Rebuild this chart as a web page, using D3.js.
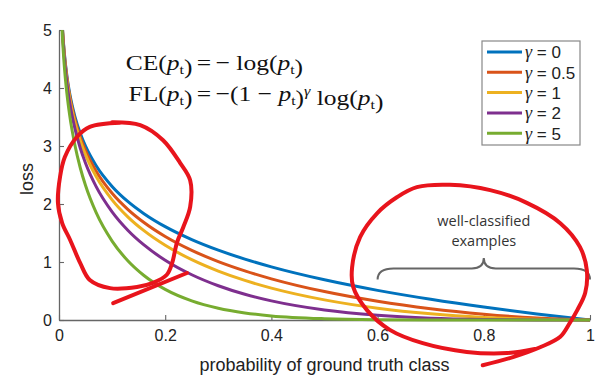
<!DOCTYPE html>
<html>
<head>
<meta charset="utf-8">
<script src="https://cdnjs.cloudflare.com/ajax/libs/d3/7.8.5/d3.min.js"></script>
<style>
  body { margin: 0; background: #fff; }
  svg { display: block; }
</style>
</head>
<body>
<svg width="603" height="385"></svg>
<script>
// probability of ground truth class (x) and loss per gamma (y)
var probs   = [0.005, 0.007, 0.01, 0.015, 0.02, 0.03, 0.04, 0.05, 0.07, 0.1, 0.13, 0.16, 0.2, 0.25, 0.3, 0.35, 0.4, 0.5, 0.6, 0.7, 0.8, 0.9, 1.0];
var lossG0  = [5.298, 4.962, 4.605, 4.200, 3.912, 3.507, 3.219, 2.996, 2.659, 2.303, 2.040, 1.833, 1.609, 1.386, 1.204, 1.050, 0.916, 0.693, 0.511, 0.357, 0.223, 0.105, 0];
var lossG05 = [5.285, 4.945, 4.582, 4.168, 3.873, 3.454, 3.154, 2.920, 2.564, 2.184, 1.903, 1.680, 1.439, 1.200, 1.007, 0.847, 0.710, 0.490, 0.323, 0.195, 0.100, 0.033, 0];
var lossG1  = [5.272, 4.927, 4.559, 4.137, 3.834, 3.402, 3.090, 2.846, 2.473, 2.072, 1.775, 1.540, 1.288, 1.040, 0.843, 0.682, 0.550, 0.347, 0.204, 0.107, 0.045, 0.011, 0];
var lossG2  = [5.245, 4.893, 4.513, 4.075, 3.757, 3.300, 2.966, 2.704, 2.300, 1.865, 1.544, 1.294, 1.030, 0.780, 0.590, 0.443, 0.330, 0.173, 0.082, 0.032, 0.009, 0.001, 0];
var lossG5  = [5.167, 4.791, 4.379, 3.894, 3.536, 3.012, 2.625, 2.318, 1.850, 1.360, 1.017, 0.767, 0.527, 0.329, 0.202, 0.122, 0.071, 0.022, 0.005, 0.001, 0, 0, 0];

var gammaLabels = ["0", "0.5", "1", "2", "5"];
var seriesColors = ["#0072bd", "#d95319", "#edb120", "#7e2f8e", "#77ac30"];
var xTicks = [0, 0.2, 0.4, 0.6, 0.8, 1];
var yTicks = [0, 1, 2, 3, 4, 5];

// hand drawn red marks, in data units (x = probability, y = loss)
var redLeftX = [0.100, 0.153, 0.196, 0.228, 0.247, 0.247, 0.234, 0.222, 0.213, 0.203, 0.177, 0.147, 0.096, 0.058, 0.040, 0.021, 0.006, -0.002, 0.002, 0.011, 0.034, 0.058, 0.115];
var redLeftY = [3.41, 3.36, 3.10, 2.71, 2.41, 1.95, 1.60, 1.33, 0.98, 0.78, 0.64, 0.57, 0.55, 0.69, 0.98, 1.38, 1.67, 2.02, 2.47, 2.81, 3.16, 3.33, 3.40];
var redTickX = [0.102, 0.241];
var redTickY = [0.29, 0.81];
var redRightX = [0.798, 0.855, 0.906, 0.944, 0.962, 0.976, 0.991, 0.994, 0.981, 0.944, 0.881, 0.812, 0.736, 0.674, 0.637, 0.599, 0.567, 0.552, 0.554, 0.580, 0.623, 0.685, 0.768, 0.844, 0.896];
var redRightY = [-0.78, -0.64, -0.47, -0.29, -0.05, 0.17, 0.47, 0.86, 1.26, 1.67, 2.02, 2.24, 2.33, 2.29, 2.12, 1.84, 1.43, 0.91, 0.57, 0.17, -0.17, -0.40, -0.55, -0.57, -0.50];

var svg = d3.select("svg");

var x = d3.scaleLinear().domain([0, 1]).range([59, 590]);
var y = d3.scaleLinear().domain([0, 5]).range([320, 30]);

var series = [lossG0, lossG05, lossG1, lossG2, lossG5].map(function(vals, i) {
  return { label: gammaLabels[i], color: seriesColors[i],
           pts: probs.map(function(p, j) { return [p, vals[j]]; }) };
});

// clip the curves to the axes box
svg.append("defs").append("clipPath").attr("id", "plotclip")
  .append("rect")
    .attr("x", x(0)).attr("y", y(5))
    .attr("width", x(1) - x(0) + 3).attr("height", y(0) - y(5) + 2);

// axes
var xAxis = svg.append("g")
    .attr("transform", "translate(0," + y(0) + ")")
    .call(d3.axisBottom(x).tickValues(xTicks).tickSizeInner(-5).tickSizeOuter(0)
      .tickFormat(function(d) { return d === 0 || d === 1 ? d : d3.format(".1f")(d); }));
var yAxis = svg.append("g")
    .attr("transform", "translate(" + x(0) + ",0)")
    .call(d3.axisLeft(y).tickValues(yTicks).tickSizeInner(-5).tickSizeOuter(0)
      .tickFormat(d3.format("d")));

[xAxis, yAxis].forEach(function(a) {
  a.select(".domain").attr("stroke", "#666").attr("stroke-width", 1.3);
  a.selectAll(".tick line").attr("stroke", "#666").attr("stroke-width", 1.1);
  a.selectAll(".tick text").attr("fill", "#222")
    .style("font-family", "'Liberation Sans', Arial, sans-serif").style("font-size", "16px");
});
xAxis.selectAll(".tick text").attr("dy", "1.1em");
yAxis.selectAll(".tick text").attr("x", -7).attr("dy", "0.36em");

// axis titles
svg.append("text")
    .attr("x", (x(0) + x(1)) / 2).attr("y", 371)
    .attr("text-anchor", "middle").attr("fill", "#222")
    .style("font-family", "'Liberation Sans', Arial, sans-serif").style("font-size", "18px")
    .text("probability of ground truth class");
svg.append("text")
    .attr("transform", "translate(33," + (y(2.5) + 4) + ") rotate(-90)")
    .attr("text-anchor", "middle").attr("fill", "#222")
    .style("font-family", "'Liberation Sans', Arial, sans-serif").style("font-size", "18px")
    .text("loss");

// curves
var line = d3.line()
    .x(function(d) { return x(d[0]); })
    .y(function(d) { return y(d[1]); })
    .curve(d3.curveMonotoneX);

svg.append("g").attr("clip-path", "url(#plotclip)")
  .selectAll("path").data(series).enter().append("path")
    .attr("fill", "none")
    .attr("stroke", function(d) { return d.color; })
    .attr("stroke-width", 3)
    .attr("d", function(d) { return line(d.pts); });

// formulas: left side ends before "=", right side starts after it.
// stretched a bit sideways, the TeX font is wider than Times
var serif = "'Liberation Serif', 'DejaVu Serif', serif";
function ftext(g, xx, anchor) {
  return g.append("text").attr("x", xx).attr("text-anchor", anchor)
      .attr("fill", "#111").style("font-family", serif).style("font-size", "22px");
}
function pt(sel) {
  sel.append("tspan").style("font-style", "italic").text("p");
  sel.append("tspan").attr("dy", 4).style("font-size", "13.5px").text("t");
  sel.append("tspan").attr("dy", -4).text("");
}
function formula(yy, name, right) {
  var g = svg.append("g").attr("transform", "translate(204," + yy + ") scale(1.16,1)");
  var l = ftext(g, -10, "end");
  l.append("tspan").text(name + "(");
  pt(l);
  l.append("tspan").text(")");
  ftext(g, 0, "middle").text("=");
  right(ftext(g, 10, "start"));
}
formula(70, "CE", function(s) {
  s.append("tspan").text("\u2212 log(");
  pt(s);
  s.append("tspan").text(")");
});
formula(101, "FL", function(s) {
  s.append("tspan").text("\u2212(1 \u2212 ");
  pt(s);
  s.append("tspan").text(")");
  s.append("tspan").attr("dy", -9).style("font-size", "14px").style("font-style", "italic").text("\u03b3");
  s.append("tspan").attr("dy", 9).text(" log(");
  pt(s);
  s.append("tspan").text(")");
});

// legend
var legend = svg.append("g");
legend.append("rect")
    .attr("x", 482).attr("y", 41).attr("width", 98).attr("height", 104)
    .attr("fill", "#fff").attr("stroke", "#888").attr("stroke-width", 1.2);
var rows = legend.selectAll("g.row").data(series).enter().append("g")
    .attr("transform", function(d, i) { return "translate(0," + (52 + i * 20.3) + ")"; });
rows.append("line")
    .attr("x1", 487).attr("x2", 522)
    .attr("stroke", function(d) { return d.color; }).attr("stroke-width", 3);
var lt = rows.append("text").attr("x", 525).attr("dy", "0.36em").attr("fill", "#222")
    .attr("font-size", 18)
    .style("font-family", "'Liberation Sans', Arial, sans-serif");
lt.append("tspan").attr("font-size", 18).style("font-family", serif).style("font-style", "italic").text("\u03b3");
lt.append("tspan").attr("font-size", 17).text(function(d) { return " = " + d.label; });

// brace and its label
var bx0 = x(0.6), bx1 = x(1), bxm = x(0.8);
var bEnd = y(0.70), bBar = y(0.89), bPeak = y(1.07);
var brace = d3.path();
brace.moveTo(bx0, bEnd);
brace.quadraticCurveTo(bx0, bBar, bx0 + 16, bBar);
brace.lineTo(bxm - 12, bBar);
brace.quadraticCurveTo(bxm, bBar, bxm, bPeak);
brace.quadraticCurveTo(bxm, bBar, bxm + 12, bBar);
brace.lineTo(bx1 - 16, bBar);
brace.quadraticCurveTo(bx1, bBar, bx1, bEnd);
svg.append("path").attr("d", brace.toString())
    .attr("fill", "none").attr("stroke", "#666").attr("stroke-width", 2);

[["well-classified", 1.70], ["examples", 1.37]].forEach(function(r) {
  svg.append("text")
      .attr("x", bxm).attr("y", y(r[1])).attr("dy", "0.35em")
      .attr("text-anchor", "middle").attr("fill", "#333")
      .style("font-family", "'Open Sans', sans-serif").style("font-size", "14.5px")
      .text(r[0]);
});

// red hand drawn circles
var scribble = d3.line()
    .x(function(d) { return x(d[0]); })
    .y(function(d) { return y(d[1]); })
    .curve(d3.curveCatmullRom);
function zip(a, b) { return a.map(function(v, i) { return [v, b[i]]; }); }
[zip(redLeftX, redLeftY), zip(redTickX, redTickY), zip(redRightX, redRightY)].forEach(function(pts) {
  svg.append("path").attr("d", scribble(pts))
      .attr("fill", "none").attr("stroke", "#e8141c").attr("stroke-width", 4)
      .attr("stroke-linecap", "round").attr("stroke-linejoin", "round");
});
</script>
</body>
</html>
